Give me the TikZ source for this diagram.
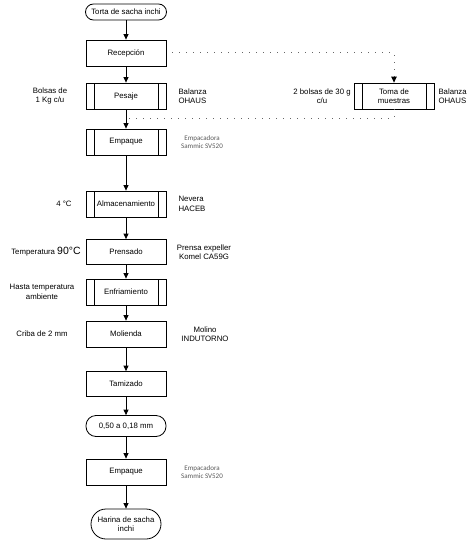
\documentclass[tikz,border=0pt]{standalone}
\usepackage{fontspec}
\setmainfont{Liberation Sans}
\newfontfamily\carlito{Carlito}
\usetikzlibrary{arrows.meta}

\tikzset{
  caja/.style={draw, line width=0.8pt, minimum width=80pt, minimum height=26pt, inner sep=1pt, align=center, font=\fontsize{7.8}{9.5}\selectfont},
  predef/.style={caja, path picture={
      \draw[line width=0.8pt] ([xshift=8pt]path picture bounding box.north west) -- ([xshift=8pt]path picture bounding box.south west);
      \draw[line width=0.8pt] ([xshift=-8pt]path picture bounding box.north east) -- ([xshift=-8pt]path picture bounding box.south east);}},
  term/.style={caja, rounded corners=8pt, minimum height=16pt},
  etiq/.style={font=\fontsize{7.8}{9.5}\selectfont, align=center},
  equipo/.style={font=\carlito\fontsize{7}{8.7}\selectfont, text=black!65, align=center},
  flecha/.style={-{Triangle[length=5.5pt,width=5pt]}, line width=0.8pt},
  punteado/.style={draw=black!60, line width=1pt, dash pattern=on 1pt off 6pt}
}

\begin{document}
\begin{tikzpicture}[x=1pt, y=-1pt]
\useasboundingbox (0,0) rectangle (474,543);

\node[term, minimum width=81pt] (torta) at (126,12) {Torta de sacha inchi};
\node[caja] (recep) at (126,53) {Recepción};
\node[predef] (pesaje) at (126,96) {Pesaje};
\node[predef] (emp1) at (126,142) {Empaque};
\node[predef] (almac) at (126,204) {Almacenamiento};
\node[caja, minimum height=25pt] (prens) at (126,252) {Prensado};
\node[predef] (enfr) at (126,292) {Enfriamiento};
\node[caja] (moli) at (126,334) {Molienda};
\node[caja, minimum height=25pt] (tamiz) at (126,384) {Tamizado};
\node[term, rounded corners=10pt, minimum height=21pt] (tam) at (126,426) {0,50 a 0,18 mm};
\node[caja] (emp2) at (126,472) {Empaque};
\node[term, rounded corners=15pt, minimum width=70pt, minimum height=30pt] (harina) at (126,524) {Harina de sacha\\inchi};

\node[predef] (toma) at (394,96) {Toma de\\muestras};

\foreach \a/\b in {torta/recep, recep/pesaje, pesaje/emp1, emp1/almac, almac/prens, prens/enfr, enfr/moli, moli/tamiz, tamiz/tam, tam/emp2, emp2/harina}
  \draw[flecha] (\a) -- (\b);

%muestras
\coordinate (sale) at ([xshift=6pt]recep.east);
\coordinate (union) at (128,118);
\draw[punteado, -{Triangle[length=6pt,width=5.5pt,color=black]}] (sale) -- (toma.north |- sale) -- (toma.north);
\draw[punteado] (toma.south) -- (toma.south |- union) -- (union);

%izquierda
\node[etiq] (bolsas) at (50,96) {Bolsas de\\1 Kg c/u};
\node[etiq] (grados) at (64,204) {4 °C};
\node[etiq] (temp) at (46,252) {Temperatura {\fontsize{10.5}{11}\selectfont 90°C}};
\node[etiq] (hasta) at (42,292) {Hasta temperatura\\ambiente};
\node[etiq] (criba) at (42,334) {Criba de 2 mm};
\node[etiq] (dos) at (322,96) {2 bolsas de 30 g\\c/u};

%derecha
\node[etiq, align=left, anchor=west] (bal1) at (175,96) {Balanza\\OHAUS};
\node[etiq, align=left, anchor=west] (bal2) at (435,96) {Balanza\\OHAUS};
\node[equipo] (samm1) at (202,142) {Empacadora\\Sammic SV520};
\node[etiq, align=left, anchor=west] (nev) at (175,204) {Nevera\\HACEB};
\node[etiq] (prensa) at (204,252) {Prensa expeller\\Komel CA59G};
\node[etiq] (molino) at (205,334) {Molino\\INDUTORNO};
\node[equipo] (samm2) at (202,472) {Empacadora\\Sammic SV520};
\end{tikzpicture}
\end{document}
